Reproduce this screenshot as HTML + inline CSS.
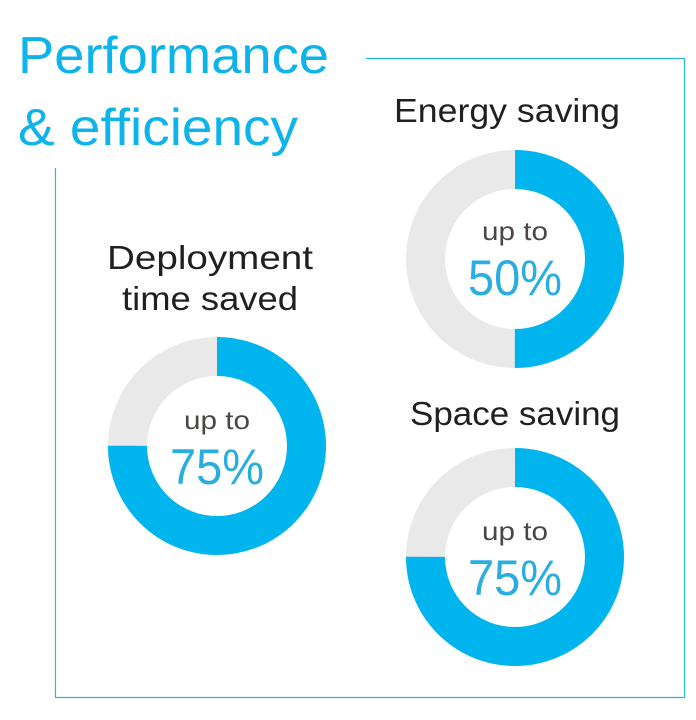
<!DOCTYPE html>
<html><head><style>html,body{margin:0;padding:0;background:#fff}svg{display:block}</style></head>
<body>
<svg width="696" height="720" viewBox="0 0 696 720" xmlns="http://www.w3.org/2000/svg" font-family="Liberation Sans, sans-serif">
<polyline points="366,58.5 684.5,58.5 684.5,697.5 55.5,697.5 55.5,168" fill="none" stroke="#2bb5e6" stroke-width="1.2"/>
<text x="18" y="73" font-size="52" fill="#0db4ea" textLength="311" lengthAdjust="spacingAndGlyphs">Performance</text>
<text x="18" y="145" font-size="52" fill="#0db4ea" textLength="280" lengthAdjust="spacingAndGlyphs">&amp; efficiency</text>

<text x="507" y="122" font-size="33" fill="#231f20" text-anchor="middle" textLength="226" lengthAdjust="spacingAndGlyphs">Energy saving</text>
<text x="210" y="269" font-size="33" fill="#231f20" text-anchor="middle" textLength="206" lengthAdjust="spacingAndGlyphs">Deployment</text>
<text x="210" y="310" font-size="33" fill="#231f20" text-anchor="middle" textLength="176" lengthAdjust="spacingAndGlyphs">time saved</text>
<text x="515" y="425" font-size="33" fill="#231f20" text-anchor="middle" textLength="210" lengthAdjust="spacingAndGlyphs">Space saving</text>

<g fill="none" stroke-width="39">
<circle cx="515" cy="259" r="89.5" stroke="#e8e9e8"/>
<circle cx="515" cy="259" r="89.5" stroke="#00b5ee" stroke-dasharray="281.2 1000" transform="rotate(-90 515 259)"/>
<circle cx="217" cy="446" r="89.5" stroke="#e8e9e8"/>
<circle cx="217" cy="446" r="89.5" stroke="#00b5ee" stroke-dasharray="421.8 1000" transform="rotate(-90 217 446)"/>
<circle cx="515" cy="557" r="89.5" stroke="#e8e9e8"/>
<circle cx="515" cy="557" r="89.5" stroke="#00b5ee" stroke-dasharray="421.8 1000" transform="rotate(-90 515 557)"/>
</g>

<g text-anchor="middle">
<text x="515" y="240" font-size="26" fill="#4d4646" textLength="66" lengthAdjust="spacingAndGlyphs">up to</text>
<text x="515" y="295" font-size="50" fill="#2aaee0" textLength="94" lengthAdjust="spacingAndGlyphs">50%</text>
<text x="217" y="429" font-size="26" fill="#4d4646" textLength="66" lengthAdjust="spacingAndGlyphs">up to</text>
<text x="217" y="484" font-size="50" fill="#2aaee0" textLength="94" lengthAdjust="spacingAndGlyphs">75%</text>
<text x="515" y="540" font-size="26" fill="#4d4646" textLength="66" lengthAdjust="spacingAndGlyphs">up to</text>
<text x="515" y="595" font-size="50" fill="#2aaee0" textLength="94" lengthAdjust="spacingAndGlyphs">75%</text>
</g>
</svg>
</body></html>
